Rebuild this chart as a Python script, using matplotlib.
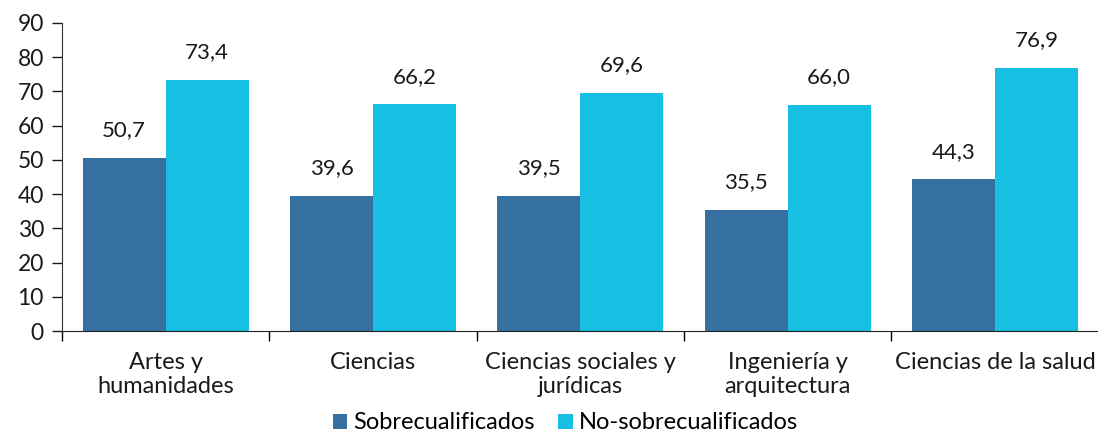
import matplotlib
matplotlib.use("Agg")
import matplotlib.pyplot as plt
import numpy as np

categories = ["Artes y\nhumanidades", "Ciencias", "Ciencias sociales y\njurídicas",
              "Ingeniería y\narquitectura", "Ciencias de la salud"]
sobre = [50.7, 39.6, 39.5, 35.5, 44.3]
no_sobre = [73.4, 66.2, 69.6, 66.0, 76.9]
series_names = ["Sobrecualificados", "No-sobrecualificados"]
colors = ["#3670A0", "#17BFE3"]

plt.rcParams['font.family'] = ['Lato', 'DejaVu Sans']

fig = plt.figure(figsize=(10.98, 4.38), dpi=100)
ax = fig.add_axes([0.0565, 0.244, 0.944, 0.7035])

x = np.arange(len(categories))
w = 0.4
b1 = ax.bar(x - w/2, sobre, w, color=colors[0], label=series_names[0])
b2 = ax.bar(x + w/2, no_sobre, w, color=colors[1], label=series_names[1])

for bars, vals in ((b1, sobre), (b2, no_sobre)):
    for r, v in zip(bars, vals):
        ax.text(r.get_x() + r.get_width()/2, v + 5.2, f"{v:.1f}".replace(".", ","),
                ha="center", va="bottom", fontsize=16, color="#1a1a1a")

ax.set_xlim(-0.5, len(categories) - 0.5)
ax.set_ylim(0, 90)
ax.set_yticks(range(0, 91, 10))
ax.tick_params(axis="y", labelsize=16.5, length=7, width=1, colors="#1a1a1a", pad=6)

ax.set_xticks(np.arange(-0.5, len(categories), 1.0))
ax.set_xticklabels([])
ax.set_xticks(x, minor=True)
ax.set_xticklabels(categories, minor=True, fontsize=17, color="#1a1a1a", linespacing=1.2)
ax.tick_params(axis="x", which="major", length=7, width=1)
ax.tick_params(axis="x", which="minor", length=0, pad=15)

for s in ("top", "right"):
    ax.spines[s].set_visible(False)
ax.spines["left"].set_color("#333333")
ax.spines["bottom"].set_color("#222222")

fig.legend(handles=[b1, b2], labels=series_names, loc="lower center",
           bbox_to_anchor=(0.515, -0.038), ncol=2, frameon=False, fontsize=17,
           handlelength=0.6, handleheight=0.6, handletextpad=0.25, columnspacing=1.0)

fig.savefig("out.png", dpi=100)
